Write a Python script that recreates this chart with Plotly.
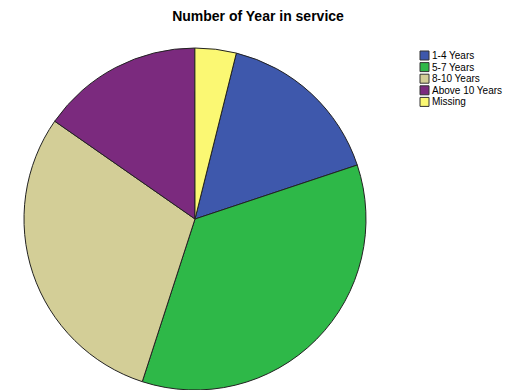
import plotly.graph_objects as go

categories = ["1-4 Years", "5-7 Years", "8-10 Years", "Above 10 Years", "Missing"]
percents = [16.0, 35.1, 29.7, 15.3, 3.9]
colors = ["#3E58AC", "#2EB848", "#D3CE97", "#7B2A7E", "#FBF873"]

W, H = 508, 390
cx, cy, r = 195, 219, 171

fig = go.Figure(go.Pie(
    labels=categories,
    values=percents,
    sort=False,
    direction="clockwise",
    rotation=14,
    textinfo="none",
    hoverinfo="label+percent",
    marker=dict(colors=colors, line=dict(color="#222222", width=1)),
    domain=dict(x=[(cx - r) / W, (cx + r) / W], y=[max(0, 1 - (cy + r) / H), 1 - (cy - r) / H]),
    showlegend=False,
))

# custom compact legend (SPSS style)
lx0, ly0, pitch, sw = 420, 55.5, 11.6, 9
for i, (lab, col) in enumerate(zip(categories, colors)):
    yc = ly0 + i * pitch
    fig.add_shape(type="rect", xref="paper", yref="paper",
                  x0=lx0 / W, x1=(lx0 + sw) / W,
                  y0=1 - (yc + sw / 2) / H, y1=1 - (yc - sw / 2) / H,
                  fillcolor=col, line=dict(color="#333333", width=1))
    fig.add_annotation(xref="paper", yref="paper", x=(lx0 + sw + 1) / W, y=1 - yc / H,
                       xanchor="left", yanchor="middle", showarrow=False, text=lab,
                       font=dict(family="Liberation Sans, Arial", size=10, color="black"))

fig.update_layout(
    width=W, height=H,
    margin=dict(l=0, r=0, t=0, b=0),
    paper_bgcolor="white",
    title=dict(text="<b>Number of Year in service</b>", x=258 / W, xanchor="center",
               y=1 - 16 / H, yanchor="middle",
               font=dict(family="Liberation Sans, Arial", size=14, color="black")),
    showlegend=False,
)

fig.write_html("out.html")
